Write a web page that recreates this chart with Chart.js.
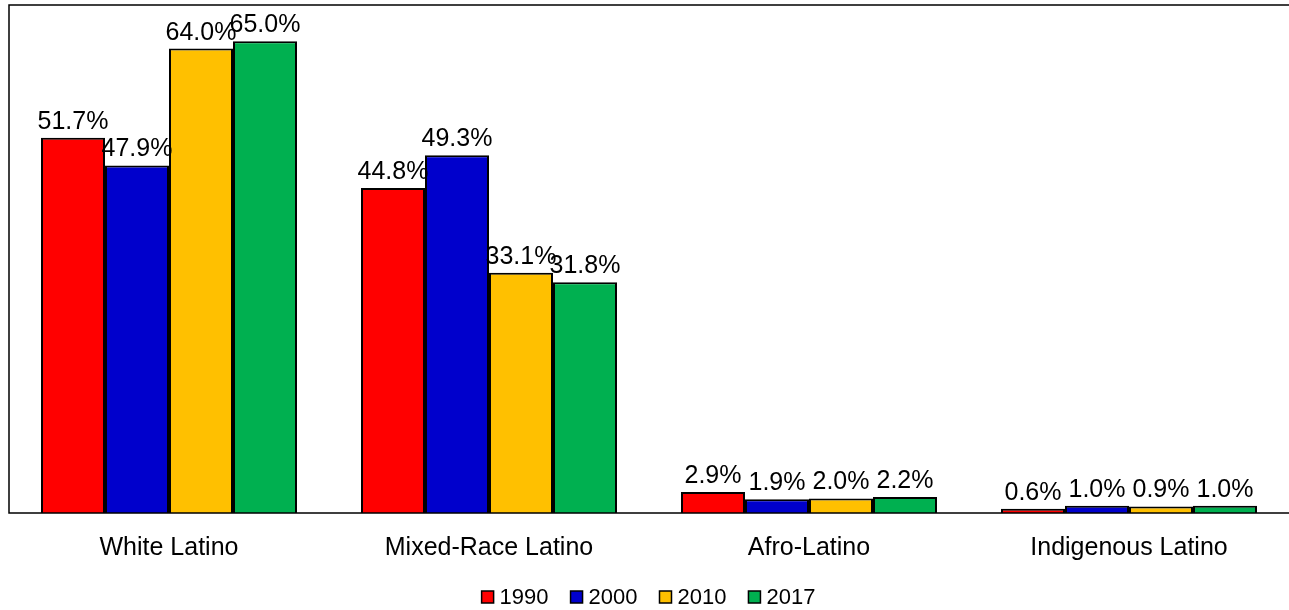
<!DOCTYPE html>
<html>
<head>
<meta charset="utf-8">
<script src="https://cdn.jsdelivr.net/npm/chart.js@4/dist/chart.umd.min.js"></script>
<style>
  html, body { margin: 0; padding: 0; background: #fff; }
  #wrap { width: 1289px; height: 610px; position: relative; }
</style>
</head>
<body>
<div id="wrap"><canvas id="c"></canvas></div>
<script>
// Latino racial self-identification shares, percent
const categories = ['White Latino', 'Mixed-Race Latino', 'Afro-Latino', 'Indigenous Latino'];
const years = ['1990', '2000', '2010', '2017'];
const values1990 = [51.7, 44.8, 2.9, 0.6];
const values2000 = [47.9, 49.3, 1.9, 1.0];
const values2010 = [64.0, 33.1, 2.0, 0.9];
const values2017 = [65.0, 31.8, 2.2, 1.0];
const seriesColors = ['#FF0000', '#0000CC', '#FFC000', '#00B050'];

const FONT = 'Arial, "Liberation Sans", sans-serif';
const LEGEND_BOTTOM = 35;

// Frame along the top, left and bottom of the plot area
const framePlugin = {
  id: 'frame',
  afterDraw(chart) {
    const { ctx, chartArea: a } = chart;
    ctx.save();
    ctx.strokeStyle = '#000';
    ctx.lineWidth = 1.5;
    ctx.beginPath();
    ctx.moveTo(chart.width, a.top);
    ctx.lineTo(a.left, a.top);
    ctx.lineTo(a.left, a.bottom);
    ctx.lineTo(chart.width, a.bottom);
    ctx.stroke();
    ctx.restore();
  }
};

// Percentage labels above each bar
const valueLabels = {
  id: 'valueLabels',
  afterDatasetsDraw(chart) {
    const { ctx } = chart;
    ctx.save();
    ctx.font = '25px ' + FONT;
    ctx.fillStyle = '#000';
    ctx.textAlign = 'center';
    ctx.textBaseline = 'alphabetic';
    chart.data.datasets.forEach((ds, di) => {
      chart.getDatasetMeta(di).data.forEach((bar, i) => {
        ctx.fillText(ds.data[i].toFixed(1) + '%', bar.x, bar.y - 9);
      });
    });
    ctx.restore();
  }
};

// Compact legend row under the category labels
const legendRow = {
  id: 'legendRow',
  afterDraw(chart) {
    const { ctx } = chart;
    const box = 12, gap = 6, spacing = 22;
    ctx.save();
    ctx.font = '22px ' + FONT;
    ctx.textBaseline = 'middle';
    const items = chart.data.datasets.map(ds => ({
      text: ds.label, color: ds.backgroundColor, w: ctx.measureText(ds.label).width
    }));
    const total = items.reduce((s, it) => s + box + gap + it.w, 0) + spacing * (items.length - 1);
    let x = (chart.width - total) / 2 + 4;
    const y = chart.height - 13;
    items.forEach(it => {
      ctx.fillStyle = it.color;
      ctx.fillRect(x, y - box / 2, box, box);
      ctx.strokeStyle = '#000';
      ctx.lineWidth = 1.5;
      ctx.strokeRect(x, y - box / 2, box, box);
      ctx.fillStyle = '#000';
      ctx.fillText(it.text, x + box + gap, y + 1);
      x += box + gap + it.w + spacing;
    });
    ctx.restore();
  }
};

const allSeries = [values1990, values2000, values2010, values2017];

new Chart(document.getElementById('c'), {
  type: 'bar',
  data: {
    labels: categories,
    datasets: allSeries.map((vals, k) => ({
      label: years[k],
      data: vals,
      backgroundColor: seriesColors[k],
      borderColor: '#000',
      borderWidth: 2,
      categoryPercentage: 0.8,
      barPercentage: 1.0
    }))
  },
  options: {
    responsive: true,
    maintainAspectRatio: false,
    animation: false,
    layout: { padding: { left: 9, top: 5, right: 0, bottom: LEGEND_BOTTOM } },
    plugins: {
      tooltip: { enabled: false },
      legend: { display: false }
    },
    scales: {
      x: {
        grid: { display: false },
        border: { display: false },
        ticks: { font: { size: 25, family: FONT }, color: '#000', padding: 12 }
      },
      y: {
        display: false,
        min: 0,
        max: 70
      }
    }
  },
  plugins: [framePlugin, valueLabels, legendRow]
});
</script>
</body>
</html>
